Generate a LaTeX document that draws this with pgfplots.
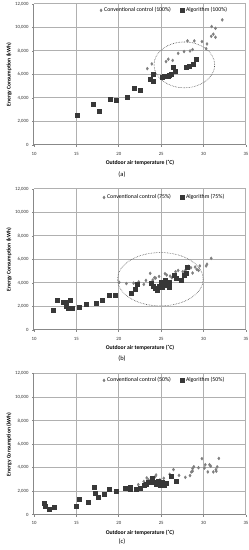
\documentclass[border=0pt]{standalone}
\usepackage{fontspec}
\setmainfont{Carlito}
\usepackage{pgfplots}
\pgfplotsset{compat=1.18}
\definecolor{conv}{HTML}{7F7F7F}
\definecolor{alg}{HTML}{383838}
\definecolor{gridc}{HTML}{B0B0B0}
\definecolor{axc}{HTML}{888888}
\pgfplotsset{
  panel/.style={
    scale only axis, width=212bp, height=141bp, anchor=south west,
    xmin=10, xmax=35, ymin=0, ymax=12000,
    xtick={10,15,...,35}, ytick={0,2000,...,12000},
    xmajorgrids=true, ymajorgrids=true,
    major grid style={draw=gridc, line width=1bp},
    axis x line*=bottom, axis y line*=left,
    axis line style={draw=axc, line width=1bp},
    tick style={draw=axc, line width=0.8bp}, tick align=outside, major tick length=2bp,
    scaled y ticks=false,
    /pgf/number format/assume math mode=true,
    yticklabel style={/pgf/number format/.cd,1000 sep={,}},
    xticklabel style={yshift=-1.5bp},
    tick label style={font=\fontsize{4.8bp}{5.2bp}\selectfont, text=black!80},
    every axis x label/.style={at={(axis description cs:0.5,0)}, anchor=center, yshift=-17.7bp, font=\fontsize{5.7bp}{6.5bp}\selectfont\bfseries},
    every axis y label/.style={at={(axis description cs:0,0.5)}, anchor=center, xshift=-25bp, rotate=90, font=\fontsize{5.6bp}{6.5bp}\selectfont\bfseries},
    xlabel={Outdoor air temperature (˚C)},
    ylabel={Energy Consumption (kWh)},
    legend style={at={(0.616,0.955)}, anchor=center, draw=none, fill=none, inner sep=0.5bp,
      font=\fontsize{5.8bp}{6.5bp}\selectfont, legend columns=2,
      /tikz/every even column/.append style={column sep=7bp}},
    legend image code/.code={\draw[#1] plot coordinates {(0bp,0bp)};},
  },
  convs/.style={only marks, mark=diamond*, mark size=1.5bp, color=conv},
  algs/.style={only marks, mark=square*, mark size=2bp, color=alg},
}
\pgfplotstableread{
x y
23.36 6500
23.9 6900
25.57 7100
25.84 7300
26.35 7200
27.0 7800
27.7 7950
28.1 8860
28.4 8000
28.7 8120
28.9 8860
29.8 8800
30.3 8200
30.4 8600
30.95 10080
30.9 9250
31.15 9430
31.4 9170
31.4 9930
32.2 10650
}\convA
\pgfplotstableread{
x y
15.1 2550
17.0 3500
17.7 2850
19.0 3900
19.7 3850
21.0 4100
21.8 4800
22.5 4700
23.76 5600
24.0 6030
24.1 5450
25.06 5750
25.4 5830
25.8 5860
26.0 5900
26.2 6000
26.4 6650
26.65 6300
27.9 6600
28.3 6700
28.8 6850
29.1 7330
}\algA
\pgfplotstableread{
x y
20.05 4050
20.9 3950
21.75 3990
22.35 4100
22.95 3880
23.2 4220
23.7 4820
24.0 4250
24.2 4450
24.35 4420
24.75 4560
25.45 4790
25.65 4680
26.05 4590
26.25 4450
26.7 4960
27.0 5070
27.55 4960
27.85 5070
28.2 5420
28.5 5300
28.7 4850
29.0 5360
29.2 5160
29.4 5070
29.55 5450
30.3 5450
30.4 5600
30.9 6100
}\convB
\pgfplotstableread{
x y
12.3 1680
12.7 2540
13.45 2400
13.8 2400
13.8 2020
14.05 1880
14.25 2500
14.45 1880
15.3 1970
16.2 2170
17.3 2250
18.1 2540
18.9 3000
19.55 2940
21.45 3140
21.9 3500
22.15 3930
23.8 3990
24.1 3700
24.3 3530
24.55 3420
24.8 3730
24.95 4100
25.1 3680
25.3 3820
25.5 4220
25.7 3820
25.9 3650
25.9 4050
26.55 4650
26.8 4420
27.3 4250
27.7 4700
28.0 4820
28.1 5360
}\algB
\pgfplotstableread{
x y
22.3 2560
22.95 2820
23.3 3130
23.5 2960
23.8 3130
24.3 3240
24.4 3380
24.85 2960
25.3 3100
26.0 3440
26.45 3840
27.1 3350
27.85 3180
28.4 3330
28.55 3640
28.7 3920
28.7 3700
28.85 4080
29.4 4000
29.8 4770
30.1 3970
30.2 4250
30.5 3640
30.7 4250
30.85 4130
31.15 3640
31.45 3840
31.6 4070
31.8 4790
31.5 3700
}\convC
\pgfplotstableread{
x y
11.15 950
11.3 700
11.75 430
12.35 650
14.95 750
15.3 1300
16.4 1050
17.15 2370
17.2 1830
17.55 1450
18.3 1770
18.9 2140
19.7 2030
20.8 2270
21.1 2270
21.3 2360
21.4 2200
22.0 2200
22.55 2220
22.95 2530
23.2 2590
23.5 2760
23.9 3100
24.05 2790
24.4 2560
24.5 2650
24.7 2870
24.85 2480
25.1 2730
25.3 2480
25.6 2670
26.2 3270
26.8 2840
}\algC
\begin{document}
\begin{tikzpicture}
\useasboundingbox (0,0) rectangle (249bp,550bp);
\begin{axis}[panel, at={(34bp,405bp)}]
\addplot[convs] table {\convA};
\addplot[algs] table {\algA};
\legend{Conventional control (100\%), Algorithm (100\%)}
\draw[densely dotted, black!70, line width=0.6bp] (axis cs:27.73,6820) ellipse [x radius=3.58, y radius=1950];
\end{axis}
\begin{axis}[panel, at={(34bp,220bp)}, legend style={at={(0.616,0.94)}}]
\addplot[convs] table {\convB};
\addplot[algs] table {\algB};
\legend{Conventional control (75\%), Algorithm (75\%)}
\draw[densely dotted, black!70, line width=0.6bp] (axis cs:24.9,4320) ellipse [x radius=5.05, y radius=2270];
\end{axis}
\begin{axis}[panel, at={(34bp,35.3bp)}, legend style={at={(0.616,0.953)}}]
\addplot[convs] table {\convC};
\addplot[algs] table {\algC};
\legend{Conventional control (50\%), Algorithm (50\%)}
\end{axis}
\node[font=\fontsize{6.5bp}{7.5bp}\selectfont] at (122bp,375bp) {(a)};
\node[font=\fontsize{6.5bp}{7.5bp}\selectfont] at (122bp,191bp) {(b)};
\node[font=\fontsize{6.5bp}{7.5bp}\selectfont] at (122bp,8.3bp) {(c)};
\end{tikzpicture}
\end{document}
